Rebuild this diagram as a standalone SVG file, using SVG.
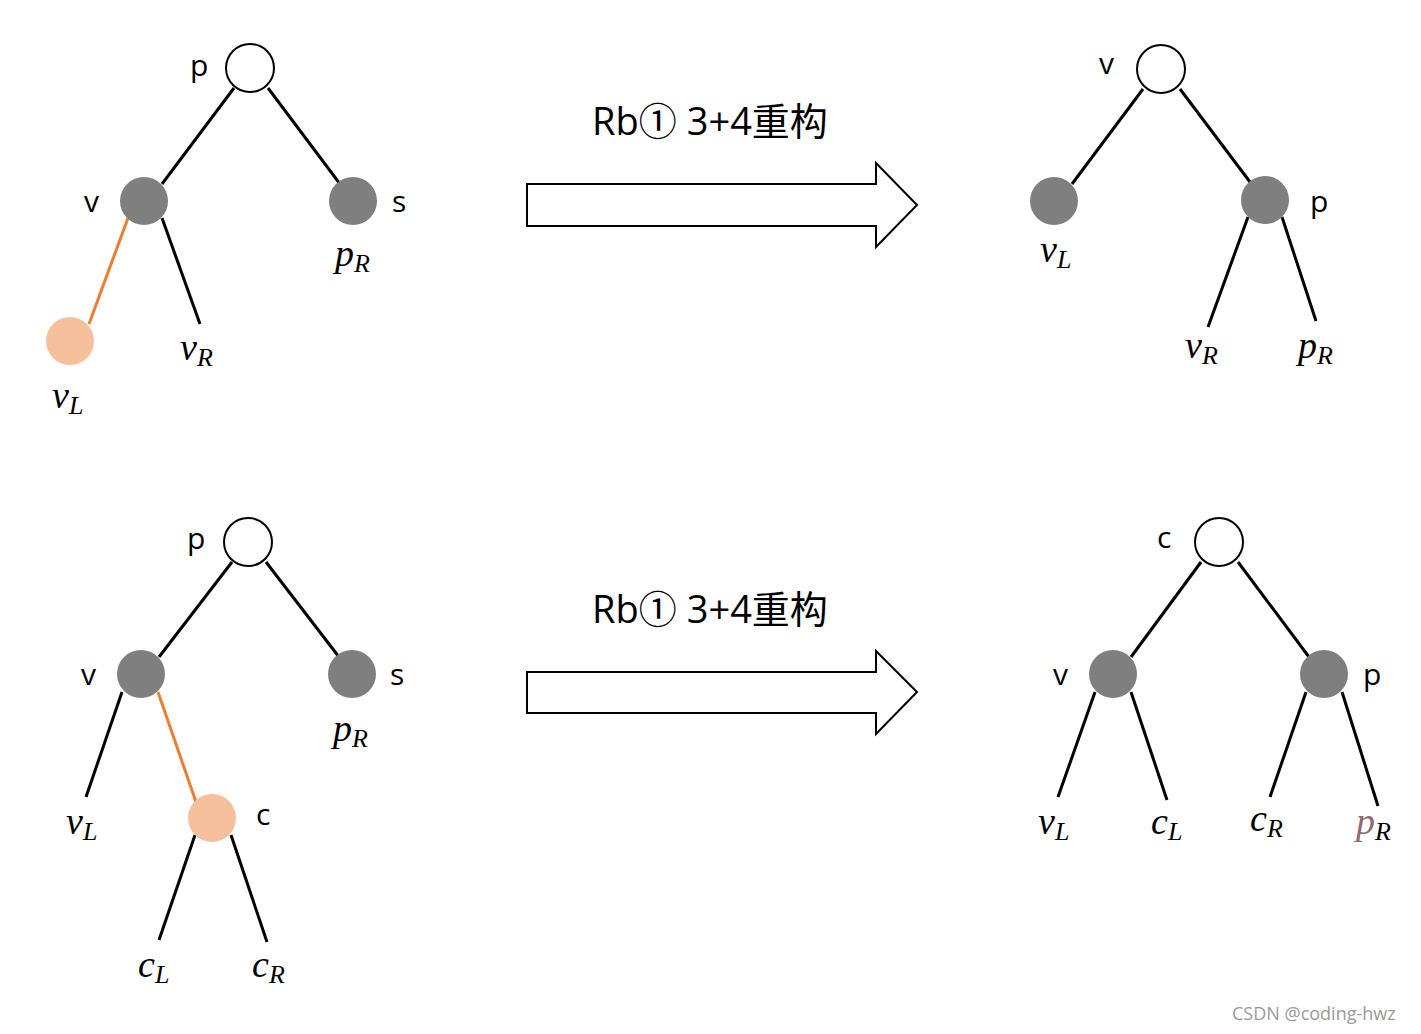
<svg xmlns="http://www.w3.org/2000/svg" width="1421" height="1034" viewBox="0 0 1421 1034">
<style>
.e{stroke:#000;stroke-width:3;fill:none}
.o{stroke:#ED7D31;stroke-width:3;fill:none}
.w{fill:#fff;stroke:#000;stroke-width:2}
.g{fill:#7F7F7F}
.r{fill:#F6C09C}
.t{font-family:"Open Sans","Noto Sans",sans-serif;font-size:30px;fill:#000}
.m{font-family:"Liberation Serif",serif;font-style:italic;font-size:38px;fill:#000}
.s{font-size:26px}
.h{font-family:"Open Sans","Noto Sans","Noto Sans CJK SC",sans-serif;font-size:38px;fill:#000;text-anchor:middle}
.a{fill:#fff;stroke:#000;stroke-width:2}
</style>
<rect width="1421" height="1034" fill="#fff"/>
<g id="connectors">
<line class="e" x1="234" y1="88" x2="162" y2="184"/>
<line class="e" x1="268" y1="88" x2="340" y2="184"/>
<line class="o" x1="128" y1="218" x2="89" y2="324"/>
<line class="e" x1="162" y1="218" x2="200" y2="324"/>
<line class="e" x1="1143" y1="89" x2="1072" y2="184"/>
<line class="e" x1="1180" y1="89" x2="1250" y2="182"/>
<line class="e" x1="1248" y1="217" x2="1208" y2="327"/>
<line class="e" x1="1282" y1="217" x2="1316" y2="321"/>
<line class="e" x1="232" y1="562" x2="159" y2="657"/>
<line class="e" x1="266" y1="562" x2="339" y2="657"/>
<line class="e" x1="122" y1="692" x2="86" y2="797"/>
<line class="o" x1="158" y1="692" x2="196" y2="802"/>
<line class="e" x1="195" y1="835" x2="159" y2="940"/>
<line class="e" x1="231" y1="835" x2="267" y2="942"/>
<line class="e" x1="1201" y1="562" x2="1131" y2="657"/>
<line class="e" x1="1238" y1="562" x2="1309" y2="657"/>
<line class="e" x1="1095" y1="692" x2="1058" y2="797"/>
<line class="e" x1="1131" y1="692" x2="1167" y2="800"/>
<line class="e" x1="1306" y1="692" x2="1270" y2="797"/>
<line class="e" x1="1342" y1="692" x2="1378" y2="806"/>
</g>
<g id="arrow1"><polygon class="a" points="527,184 876,184 876,163 917,205 876,247 876,226 527,226"/><text class="h" x="710" y="135">Rb① 3+4重构</text></g>
<g id="arrow2"><polygon class="a" points="527,672 876,672 876,651 917,692 876,734 876,713 527,713"/><text class="h" x="710" y="623">Rb① 3+4重构</text></g>
<g id="tl-p"><circle class="w" cx="250" cy="68" r="24"/><text class="t" x="190" y="76">p</text></g>
<g id="tl-v"><circle class="g" cx="144" cy="201" r="24"/><text class="t" x="84" y="212">v</text></g>
<g id="tl-s"><circle class="g" cx="353" cy="201" r="24"/><text class="t" x="392" y="212">s</text><text class="m" x="335" y="266">p<tspan class="s" dy="6">R</tspan></text></g>
<g id="tl-vL"><circle class="r" cx="70" cy="341" r="24"/><text class="m" x="52" y="408">v<tspan class="s" dy="6">L</tspan></text></g>
<g id="tl-vR"><text class="m" x="180" y="360">v<tspan class="s" dy="6">R</tspan></text></g>
<g id="tr-v"><circle class="w" cx="1161" cy="69" r="24"/><text class="t" x="1099" y="74">v</text></g>
<g id="tr-vL"><circle class="g" cx="1054" cy="201" r="24"/><text class="m" x="1040" y="262">v<tspan class="s" dy="6">L</tspan></text></g>
<g id="tr-p"><circle class="g" cx="1265" cy="200" r="24"/><text class="t" x="1310" y="212">p</text></g>
<g id="tr-vR"><text class="m" x="1185" y="358">v<tspan class="s" dy="6">R</tspan></text></g>
<g id="tr-pR"><text class="m" x="1298" y="358">p<tspan class="s" dy="6">R</tspan></text></g>
<g id="bl-p"><circle class="w" cx="248" cy="542" r="24"/><text class="t" x="187" y="549">p</text></g>
<g id="bl-v"><circle class="g" cx="141" cy="674" r="24"/><text class="t" x="81" y="685">v</text></g>
<g id="bl-s"><circle class="g" cx="352" cy="674" r="24"/><text class="t" x="390" y="685">s</text><text class="m" x="333" y="741">p<tspan class="s" dy="6">R</tspan></text></g>
<g id="bl-vL"><text class="m" x="66" y="834">v<tspan class="s" dy="6">L</tspan></text></g>
<g id="bl-c"><circle class="r" cx="212" cy="818" r="24"/><text class="t" x="256" y="825">c</text></g>
<g id="bl-cL"><text class="m" x="138" y="977">c<tspan class="s" dy="6">L</tspan></text></g>
<g id="bl-cR"><text class="m" x="252" y="977">c<tspan class="s" dy="6">R</tspan></text></g>
<g id="br-c"><circle class="w" cx="1219" cy="542" r="24"/><text class="t" x="1157" y="548">c</text></g>
<g id="br-v"><circle class="g" cx="1113" cy="674" r="24"/><text class="t" x="1053" y="685">v</text></g>
<g id="br-p"><circle class="g" cx="1324" cy="674" r="24"/><text class="t" x="1363" y="685">p</text></g>
<g id="br-vL"><text class="m" x="1038" y="834">v<tspan class="s" dy="6">L</tspan></text></g>
<g id="br-cL"><text class="m" x="1151" y="834">c<tspan class="s" dy="6">L</tspan></text></g>
<g id="br-cR"><text class="m" x="1250" y="831">c<tspan class="s" dy="6">R</tspan></text></g>
<g id="br-pR"><text class="m" x="1356" y="834"><tspan fill="#8B6B6B">p</tspan><tspan class="s" dy="6">R</tspan></text></g>
<text x="1232" y="1020" font-family="'Open Sans','Noto Sans',sans-serif" font-size="18" fill="#9a9a9a">CSDN @coding-hwz</text>
</svg>
